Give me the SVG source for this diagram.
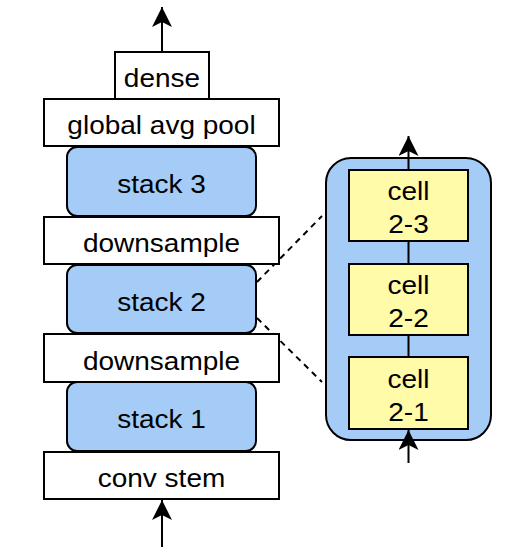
<svg xmlns="http://www.w3.org/2000/svg" width="520" height="556" viewBox="0 0 520 556">
<style>
.box{fill:#ffffff;stroke:#000;stroke-width:2}
.stack{fill:#a4ccf6;stroke:#000;stroke-width:2}
.cell{fill:#fffba8;stroke:#000;stroke-width:2}
.t{font-family:"Liberation Sans",Arial,Helvetica,sans-serif;font-size:25px;fill:#000;text-anchor:middle}
.edge{stroke:#000;stroke-width:2;fill:none}
.dash{stroke:#000;stroke-width:2;fill:none;stroke-dasharray:6 5}
</style>
<defs>
<marker id="arr" markerUnits="userSpaceOnUse" viewBox="0 0 20 20" markerWidth="20" markerHeight="20" refX="20" refY="10" orient="auto">
<path d="M20,10 L0,0 L5,10 L0,20 Z" fill="#000"/>
</marker>
</defs>
<rect width="520" height="556" fill="#ffffff"/>
<g id="connectors">
<line class="edge" x1="162" y1="52" x2="162" y2="7" marker-end="url(#arr)"/>
<line class="edge" x1="162" y1="547" x2="162" y2="500" marker-end="url(#arr)"/>
<line class="dash" x1="257" y1="282" x2="322" y2="216"/>
<line class="dash" x1="257" y1="318" x2="322" y2="382"/>
</g>
<g id="stack2-detail">
<rect x="326" y="158" width="165" height="282" rx="25" ry="25" class="stack"/>
</g>
<g id="inner-connectors">
<line class="edge" x1="408.5" y1="170" x2="408.5" y2="136" marker-end="url(#arr)"/>
<line class="edge" x1="408.5" y1="241" x2="408.5" y2="264"/>
<line class="edge" x1="408.5" y1="335" x2="408.5" y2="357"/>
<line class="edge" x1="408.5" y1="463" x2="408.5" y2="430" marker-end="url(#arr)"/>
</g>
<g id="dense">
<rect x="115" y="52" width="94" height="47" class="box"/>
<text class="t" transform="translate(162,87) scale(1.12,1)">dense</text>
</g>
<g id="gap">
<rect x="44" y="99" width="235" height="47" class="box"/>
<text class="t" transform="translate(161.5,134) scale(1.12,1)">global avg pool</text>
</g>
<g id="stack3">
<rect x="67" y="147" width="189" height="69" rx="10" ry="10" class="stack"/>
<text class="t" transform="translate(161.5,193) scale(1.12,1)">stack 3</text>
</g>
<g id="downsample2">
<rect x="44" y="217" width="235" height="47" class="box"/>
<text class="t" transform="translate(161.5,252) scale(1.12,1)">downsample</text>
</g>
<g id="stack2">
<rect x="67" y="265" width="189" height="68" rx="10" ry="10" class="stack"/>
<text class="t" transform="translate(161.5,311) scale(1.12,1)">stack 2</text>
</g>
<g id="downsample1">
<rect x="44" y="334" width="235" height="48" class="box"/>
<text class="t" transform="translate(161.5,369.5) scale(1.12,1)">downsample</text>
</g>
<g id="stack1">
<rect x="67" y="382" width="189" height="69" rx="10" ry="10" class="stack"/>
<text class="t" transform="translate(161.5,428) scale(1.12,1)">stack 1</text>
</g>
<g id="conv-stem">
<rect x="44" y="452" width="235" height="47" class="box"/>
<text class="t" transform="translate(161.5,487) scale(1.12,1)">conv stem</text>
</g>
<g id="cell-2-3">
<rect x="349" y="170" width="119" height="71" class="cell"/>
<text class="t" transform="translate(408.5,200) scale(1.12,1)">cell</text>
<text class="t" transform="translate(408.5,233) scale(1.12,1)">2-3</text>
</g>
<g id="cell-2-2">
<rect x="349" y="264" width="119" height="71" class="cell"/>
<text class="t" transform="translate(408.5,294) scale(1.12,1)">cell</text>
<text class="t" transform="translate(408.5,327) scale(1.12,1)">2-2</text>
</g>
<g id="cell-2-1">
<rect x="349" y="357" width="119" height="72" class="cell"/>
<text class="t" transform="translate(408.5,387.5) scale(1.12,1)">cell</text>
<text class="t" transform="translate(408.5,420.5) scale(1.12,1)">2-1</text>
</g>
</svg>
